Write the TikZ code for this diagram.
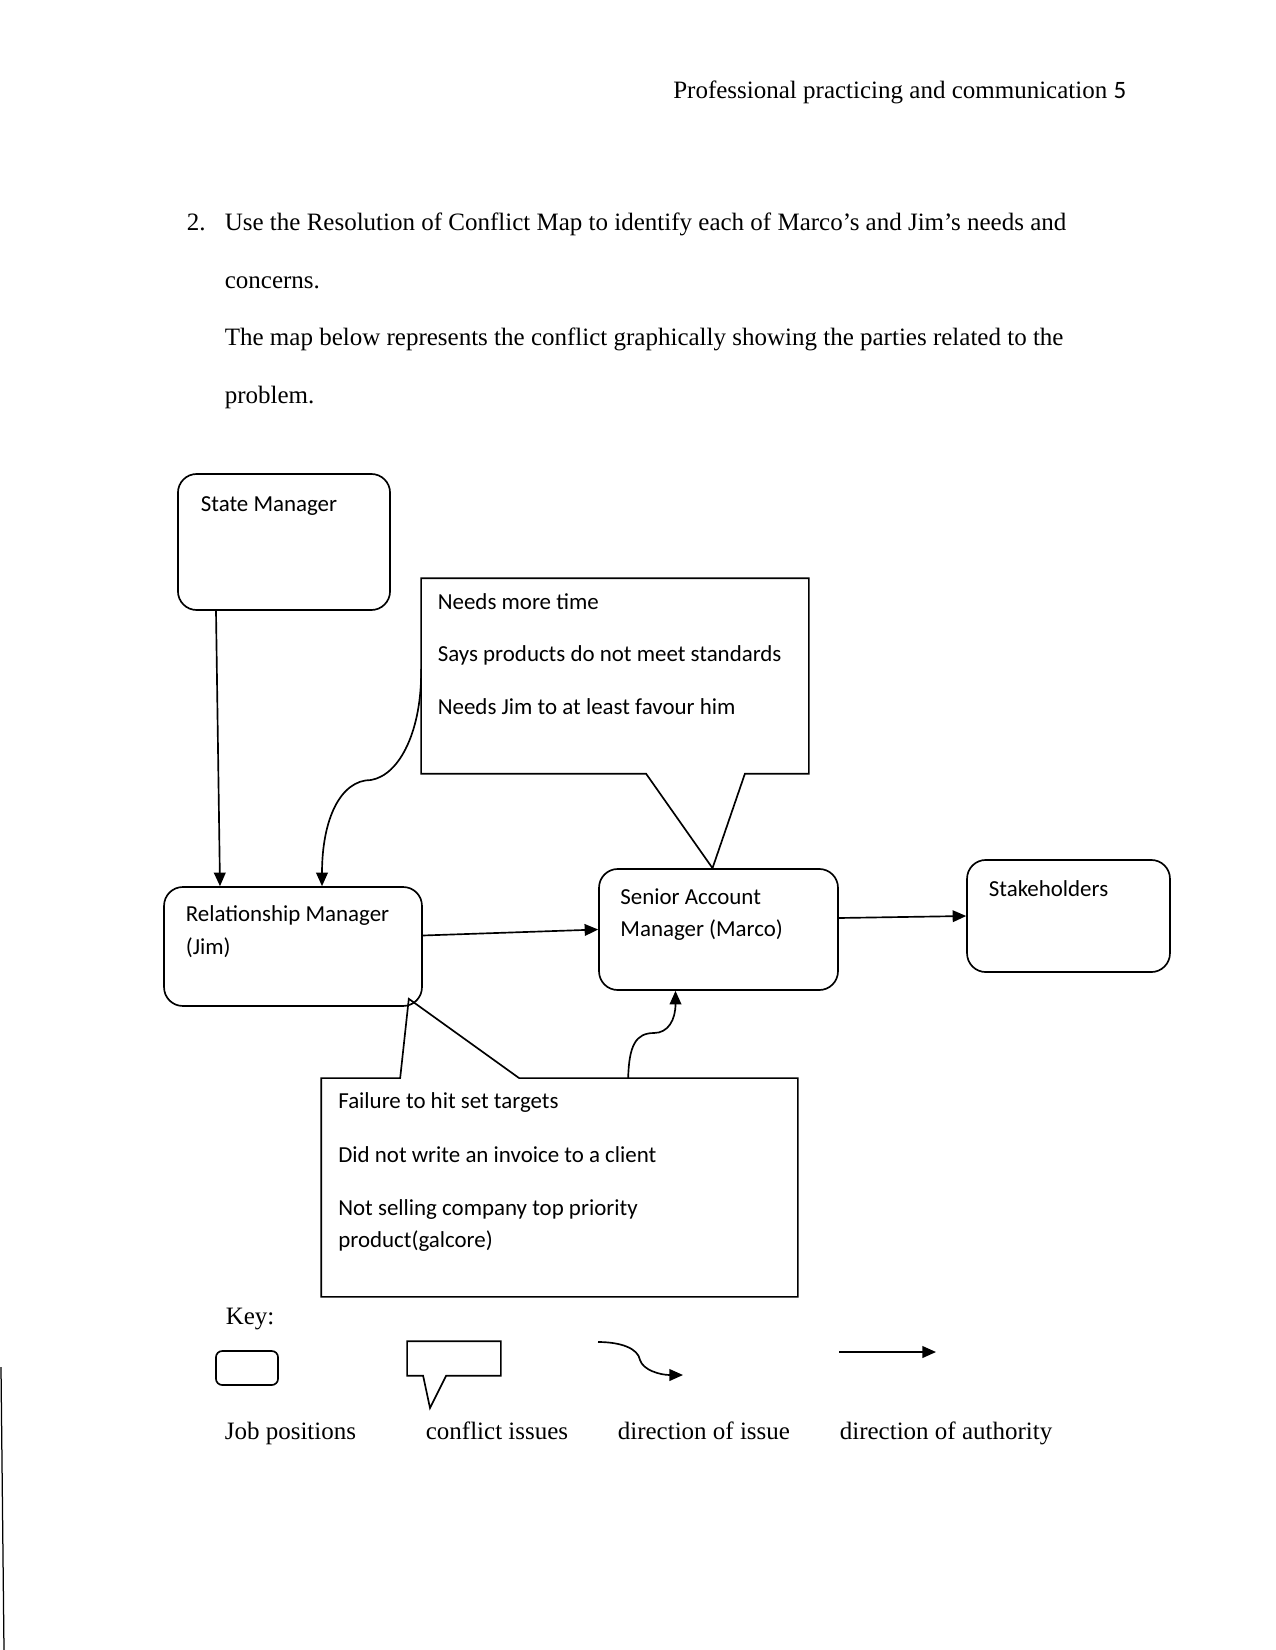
\documentclass[tikz,border=0pt]{standalone}
\usepackage{fontspec}
\setmainfont{Liberation Serif}
\newfontfamily\calfont{Carlito}
\usetikzlibrary{arrows.meta,calc}
\begin{document}
\begin{tikzpicture}[x=0.48pt,y=-0.48pt,
  line width=0.8pt,
  jobbox/.style={draw, rectangle, rounded corners=9pt, inner sep=0pt},
  frame/.style={rectangle, inner sep=0pt},
  callout/.style={draw, line join=miter},
  lbl/.style={font=\calfont\fontsize{11}{13}\selectfont, inner sep=0pt, anchor=base west},
  body/.style={font=\fontsize{12}{14}\selectfont, inner sep=0pt, anchor=base west},
  auth/.style={-{Triangle[length=6.5pt,width=5.6pt]}},
  issue/.style={-{Triangle[length=6.5pt,width=5.6pt]}}
]
\useasboundingbox (0,0) rectangle (1275,1650);

% header
\node[font=\fontsize{12}{14}\selectfont, inner sep=0pt, anchor=base east] (hdr) at (1127,99)
  {Professional practicing and communication {\calfont 5}};

% body text
\node[body] (num) at (186,231) {2.};
\node[body] (l1) at (224,231) {Use the Resolution of Conflict Map to identify each of Marco’s and Jim’s needs and};
\node[body] (l2) at (224,288.7) {concerns.};
\node[body] (l3) at (224,346) {The map below represents the conflict graphically showing the parties related to the};
\node[body] (l4) at (224,403.3) {problem.};

% job boxes
\node[jobbox, minimum width=101.8pt, minimum height=65.3pt] (sm) at (284,542) {};
\node[jobbox, minimum width=123.8pt, minimum height=57.1pt] (jim) at (293,946.5) {};
\node[jobbox, minimum width=114.7pt, minimum height=58.1pt] (marco) at (718.5,929.5) {};
\node[jobbox, minimum width=97.4pt, minimum height=53.8pt] (stake) at (1068.5,916) {};

\node[lbl] (smt) at (200,511) {State Manager};
\node[lbl] (jimt1) at (185,921.7) {Relationship Manager};
\node[lbl] (jimt2) at (185,954) {(Jim)};
\node[lbl] (marcot1) at (619.6,904) {Senior Account};
\node[lbl] (marcot2) at (619.6,936) {Manager (Marco)};
\node[lbl] (staket) at (988,896) {Stakeholders};

% callout: needs
\node[frame, minimum width=185.3pt, minimum height=93.1pt] (needs) at (615,676) {};
\coordinate (tipA) at ($(marco.north)+(-6,0)$);
\draw[callout] (needs.north west) -- (needs.north east) -- (needs.south east)
  -- ($(needs.south east)+(-64,0)$) -- (tipA) -- ($(needs.south west)+(225,0)$)
  -- (needs.south west) -- cycle;
\node[lbl] (n1) at (437,609) {Needs more time};
\node[lbl] (n2) at (437,661.5) {Says products do not meet standards};
\node[lbl] (n3) at (437,714) {Needs Jim to at least favour him};

% callout: failure
\node[frame, minimum width=228pt, minimum height=104.2pt] (fail) at (559.5,1187.5) {};
\coordinate (tipB) at ($(jim.south east)+(-14,-8)$);
\draw[callout] (fail.north west) -- ($(fail.north west)+(79,0)$) -- (tipB)
  -- ($(fail.north west)+(198,0)$) -- (fail.north east) -- (fail.south east)
  -- (fail.south west) -- cycle;
\node[lbl] (f1) at (337.5,1108.7) {Failure to hit set targets};
\node[lbl] (f2) at (337.5,1162) {Did not write an invoice to a client};
\node[lbl] (f3) at (337.5,1215) {Not selling company top priority};
\node[lbl] (f4) at (337.5,1247) {product(galcore)};

% authority arrows
\draw[auth] ($(sm.south)+(-68,0)$) -- ($(jim.north)+(-73,0)$);
\draw[auth] ($(jim.east)+(0,-11)$) -- (marco.west);
\draw[auth] ($(marco.east)+(0,-11.5)$) -- (stake.west);

% issue arrows
\coordinate (s1) at ($(needs.south west)+(0,-105)$);
\draw[issue] (s1) .. controls (422,730) and (400,775) .. (371,780)
  .. controls (340,780) and (322,820) .. ($(jim.north)+(29,0)$);
\coordinate (s2) at ($(fail.north west)+(307,0)$);
\draw[issue] (s2) .. controls (629,1045) and (636,1033) .. (654,1033)
  .. controls (668,1033) and (675.5,1020) .. ($(marco.south)+(-43,0)$);

% key
\node[body] (key) at (225,1324) {Key:};
\node[draw, rectangle, rounded corners=3pt, inner sep=0pt, minimum width=29.8pt, minimum height=16.3pt] (kbox) at (247,1368) {};
\node[frame, minimum width=44.2pt, minimum height=15.8pt] (kcall) at (454,1358.5) {};
\coordinate (ktip) at (430,1408);
\draw[callout] (kcall.north west) -- (kcall.north east) -- (kcall.south east)
  -- ($(kcall.south west)+(39,0)$) -- (ktip) -- ($(kcall.south west)+(16,0)$)
  -- (kcall.south west) -- cycle;
\coordinate (ki1) at (598,1342);
\coordinate (ki2) at (683,1375);
\draw[issue] (ki1) .. controls (620,1342) and (638,1348) .. (640,1360)
  .. controls (643,1370) and (660,1375) .. (ki2);
\coordinate (ka1) at (839,1352);
\coordinate (ka2) at (936,1352);
\draw[auth] (ka1) -- (ka2);

\node[body] (k1) at (224,1439) {Job positions};
\node[body] (k2) at (425,1439) {conflict issues};
\node[body] (k3) at (617,1439) {direction of issue};
\node[body] (k4) at (839,1439) {direction of authority};

% left margin line
\coordinate (m1) at (1,1367);
\coordinate (m2) at (4,1650);
\draw[line width=0.6pt] (m1) -- (m2);
\end{tikzpicture}
\end{document}
